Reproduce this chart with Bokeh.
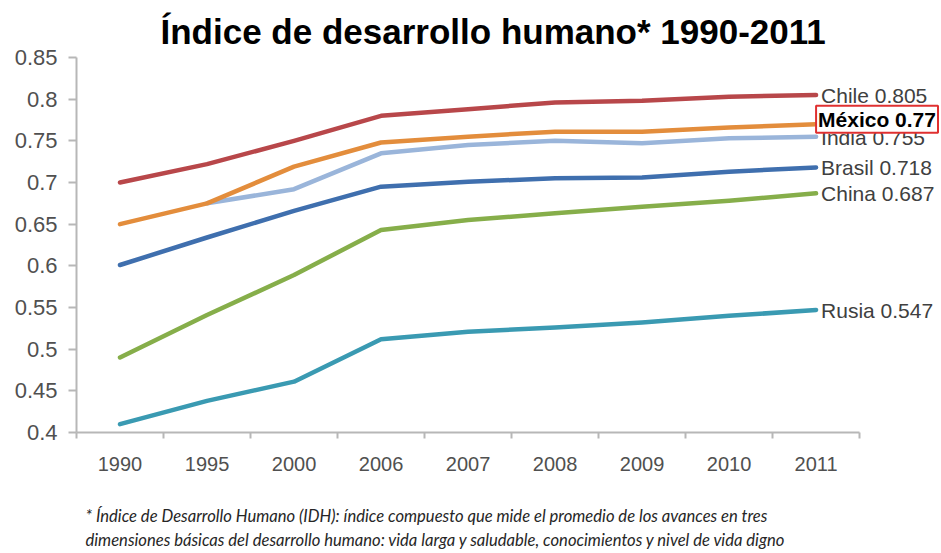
from bokeh.plotting import figure
from bokeh.models import (ColumnDataSource, LabelSet, Label, LinearAxis,
                          Range1d, FixedTicker, Title)
from bokeh.core.properties import value
from bokeh.embed import file_html
from bokeh.resources import INLINE

years = ["1990", "1995", "2000", "2006", "2007", "2008", "2009", "2010", "2011"]
chile = [0.700, 0.722, 0.750, 0.780, 0.788, 0.796, 0.798, 0.803, 0.805]
mexico = [0.650, 0.675, 0.719, 0.748, 0.755, 0.761, 0.761, 0.766, 0.770]
india = [float("nan"), 0.675, 0.692, 0.735, 0.745, 0.750, 0.747, 0.753, 0.755]
brasil = [0.601, 0.634, 0.666, 0.695, 0.701, 0.705, 0.706, 0.713, 0.718]
china = [0.490, 0.541, 0.589, 0.643, 0.655, 0.663, 0.671, 0.678, 0.687]
rusia = [0.410, 0.438, 0.461, 0.512, 0.521, 0.526, 0.532, 0.540, 0.547]

series_names = ["Chile", "India", "México", "Brasil", "China", "Rusia"]
series_values = [chile, india, mexico, brasil, china, rusia]
series_colors = ["#B8474A", "#9AB5DA", "#E38D3C", "#3F6FAE", "#86AE4A", "#3A9AB2"]

y_ticks = [0.4, 0.45, 0.5, 0.55, 0.6, 0.65, 0.7, 0.75, 0.8, 0.85]
y_tick_labels = ["0.4", "0.45", "0.5", "0.55", "0.6", "0.65", "0.7", "0.75", "0.8", "0.85"]

title_text = "Índice de desarrollo humano* 1990-2011"
footnote_1 = "* Índice de Desarrollo Humano (IDH): índice compuesto que mide el promedio de los avances en tres"
footnote_2 = "dimensiones básicas del desarrollo humano: vida larga y saludable, conocimientos y nivel de vida digno"

xpos = list(range(len(years)))  # category slots
label_room = 0.93  # extra x space (in category widths) for the end labels

p = figure(width=940, height=552,
           x_range=Range1d(-0.5, len(years) - 0.5 + label_room), y_range=Range1d(0.4, 0.85),
           output_backend="svg", toolbar_location=None, x_axis_location=None,
           min_border_left=76, min_border_right=0, min_border_top=57, min_border_bottom=120)
p.outline_line_color = None
p.xgrid.grid_line_color = None
p.ygrid.grid_line_color = None
p.background_fill_color = "white"

p.title.text = title_text
p.title.text_font = "Liberation Sans"
p.title.text_font_size = "35px"
p.title.text_font_style = "bold"
p.title.text_color = "black"
p.title.align = "left"
p.title.offset = 84
p.title.standoff = 13

# y axis
ya = p.yaxis[0]
ya.ticker = FixedTicker(ticks=y_ticks)
ya.major_label_overrides = {t: s for t, s in zip(y_ticks, y_tick_labels)}
ya.axis_line_color = "#B7B7B7"
ya.axis_line_width = 2
ya.major_tick_line_color = "#B7B7B7"
ya.major_tick_line_width = 2
ya.major_tick_out = 8
ya.major_tick_in = 0
ya.minor_tick_line_color = None
ya.major_label_standoff = 11
ya.major_label_text_font = "Liberation Sans"
ya.major_label_text_font_size = "22px"
ya.major_label_text_color = "#505050"

# x axis: boundary ticks + category labels
bounds = [i - 0.5 for i in range(len(years) + 1)]
tick_axis = LinearAxis(ticker=FixedTicker(ticks=bounds), bounds=(bounds[0], bounds[-1]),
                       axis_line_color="#B7B7B7", axis_line_width=2,
                       major_tick_line_color="#B7B7B7", major_tick_line_width=2,
                       major_tick_out=6, major_tick_in=0, minor_tick_line_color=None,
                       major_label_text_font_size="1px", major_label_text_color=None,
                       major_label_standoff=0)
p.add_layout(tick_axis, "below")
cat_axis = LinearAxis(ticker=FixedTicker(ticks=xpos),
                      major_label_overrides={i: y for i, y in zip(xpos, years)},
                      axis_line_color=None, major_tick_line_color=None, minor_tick_line_color=None,
                      major_tick_out=0, major_tick_in=0,
                      major_label_standoff=18,
                      major_label_text_font="Liberation Sans",
                      major_label_text_font_size="20px",
                      major_label_text_color="#505050")
p.add_layout(cat_axis, "below")

for name, vals, col in zip(series_names, series_values, series_colors):
    p.line(xpos, vals, line_color=col, line_width=4.5, line_join="round", line_cap="round")

# end labels
label_offsets = {"Chile": 0, "India": -1, "México": 5, "Brasil": 0, "China": 0, "Rusia": 0}
normal = [n for n in series_names if n != "México"]
src = ColumnDataSource(dict(
    x=[xpos[-1]] * len(normal),
    y=[series_values[series_names.index(n)][-1] for n in normal],
    text=[f"{n} {series_values[series_names.index(n)][-1]:g}" for n in normal],
    yoff=[label_offsets[n] for n in normal],
))
p.add_layout(LabelSet(x="x", y="y", text="text", source=src, x_offset=5, y_offset="yoff",
                      text_baseline="middle", text_align="left",
                      text_font=value("Liberation Sans"), text_font_size=value("21px"),
                      text_color="#404040"))
p.add_layout(Label(x=xpos[-1], y=mexico[-1], text=f"México {mexico[-1]:g}", x_offset=0,
                   y_offset=label_offsets["México"], text_baseline="middle", text_align="left",
                   text_font="Liberation Sans", text_font_size="21px", text_font_style="bold",
                   text_color="black", border_line_color="#E03030", border_line_width=2,
                   background_fill_color="white", padding=2))

# footnote (spacer + two lines)
spacer = Title(text=" ", text_font_size="1px", standoff=26)
fn1 = Title(text=footnote_1, align="left", offset=9, standoff=2,
            text_font="Lato", text_font_style="italic", text_font_size="16.6px", text_color="#262626")
fn2 = Title(text=footnote_2, align="left", offset=9, standoff=2,
            text_font="Lato", text_font_style="italic", text_font_size="16.6px", text_color="#262626")
p.add_layout(spacer, "below")
p.add_layout(fn1, "below")
p.add_layout(fn2, "below")

open("out.html", "w").write(file_html(p, INLINE))
